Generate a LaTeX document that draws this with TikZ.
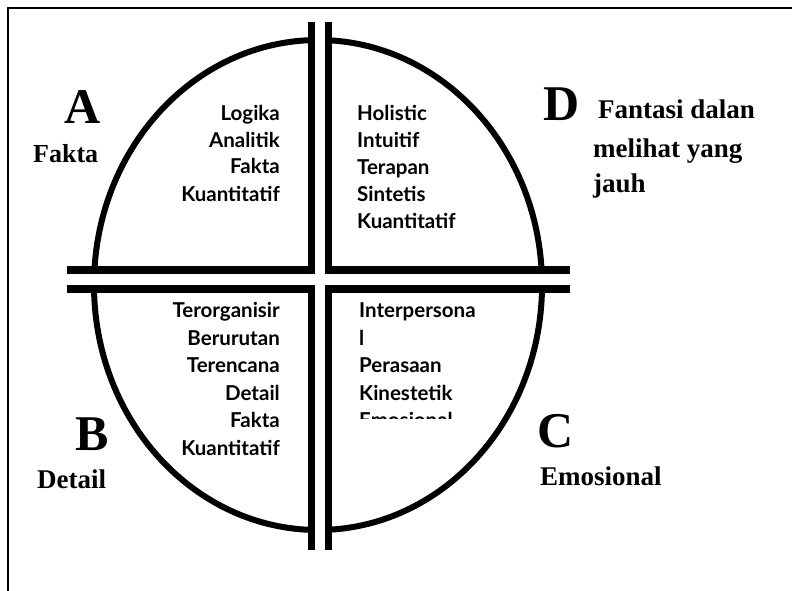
\documentclass[tikz,border=0pt]{standalone}
\usepackage{fontspec}
\newfontfamily\labfont{Liberation Serif}[BoldFont={* Bold}]
\newfontfamily\qfont{Lato}[BoldFont={* Bold}]
\begin{document}
\begin{tikzpicture}[x=1pt,y=-1pt,
  bar/.style={line width=7.5pt},
  gapfill/.style={fill=white,draw=none},
  qtext/.style={inner sep=0pt,font=\qfont\bfseries\fontsize{20.5}{20.5}\selectfont},
  bigletter/.style={inner sep=0pt,anchor=base,font=\labfont\bfseries\fontsize{50}{50}\selectfont},
  sidelabel/.style={inner sep=0pt,anchor=base west,font=\labfont\bfseries\fontsize{27}{27}\selectfont}]
\useasboundingbox (0,0) rectangle (792,590);
% frame
\draw[line width=1.6pt] (8,592) -- (8,8) -- (794,8);
% ellipse
\draw[line width=6pt] (318,285) ellipse [x radius=224, y radius=245];
% bars
\draw[bar] (311.5,22) -- (311.5,550);
\draw[bar] (328.5,22) -- (328.5,550);
\draw[bar] (67,270) -- (570,270);
\draw[bar] (67,289) -- (570,289);
% white gaps
\fill[gapfill] (315.3,15) rectangle (324.7,560);
\fill[gapfill] (60,273.8) rectangle (580,285.2);
% quadrant A
\node[qtext,anchor=base east] (a1) at (280,120) {Logika};
\node[qtext,anchor=base east] (a2) at (280,147) {Analitik};
\node[qtext,anchor=base east] (a3) at (280,173) {Fakta};
\node[qtext,anchor=base east] (a4) at (280,201) {Kuantitatif};
% quadrant D
\node[qtext,anchor=base west] (d1) at (357,120) {Holistic};
\node[qtext,anchor=base west] (d2) at (357,147) {Intuitif};
\node[qtext,anchor=base west] (d3) at (357,174) {Terapan};
\node[qtext,anchor=base west] (d4) at (357,201) {Sintetis};
\node[qtext,anchor=base west] (d5) at (357,228) {Kuantitatif};
% quadrant B
\node[qtext,anchor=base east] (b1) at (280,317) {Terorganisir};
\node[qtext,anchor=base east] (b2) at (280,345) {Berurutan};
\node[qtext,anchor=base east] (b3) at (280,372) {Terencana};
\node[qtext,anchor=base east] (b4) at (280,400) {Detail};
\node[qtext,anchor=base east] (b5) at (280,427) {Fakta};
\node[qtext,anchor=base east] (b6) at (280,455) {Kuantitatif};
% quadrant C
\node[qtext,anchor=base west] (c1) at (359,317) {Interpersona};
\node[qtext,anchor=base west] (c2) at (359,345) {l};
\node[qtext,anchor=base west] (c3) at (359,372) {Perasaan};
\node[qtext,anchor=base west] (c4) at (359,400) {Kinestetik};
\begin{scope}
\clip (350,405) rectangle (480,418.5);
\node[qtext,anchor=base west] (c5) at (359,427) {Emosional};
\end{scope}
% corner labels
\node[bigletter] (la) at (82.5,123) {A};
\node[sidelabel,font=\labfont\bfseries\fontsize{26}{26}\selectfont] (fa) at (33,162) {Fakta};
\node[bigletter] (ld) at (561.5,120) {D};
\node[sidelabel] (fd1) at (598,118) {Fantasi dalan};
\node[sidelabel] (fd2) at (593,157) {melihat yang};
\node[sidelabel] (fd3) at (593,192) {jauh};
\node[bigletter] (lb) at (92.5,450) {B};
\node[sidelabel] (db) at (37,488) {Detail};
\node[bigletter] (lc) at (555.5,447) {C};
\node[sidelabel] (ec) at (540,485) {Emosional};
\end{tikzpicture}
\end{document}
